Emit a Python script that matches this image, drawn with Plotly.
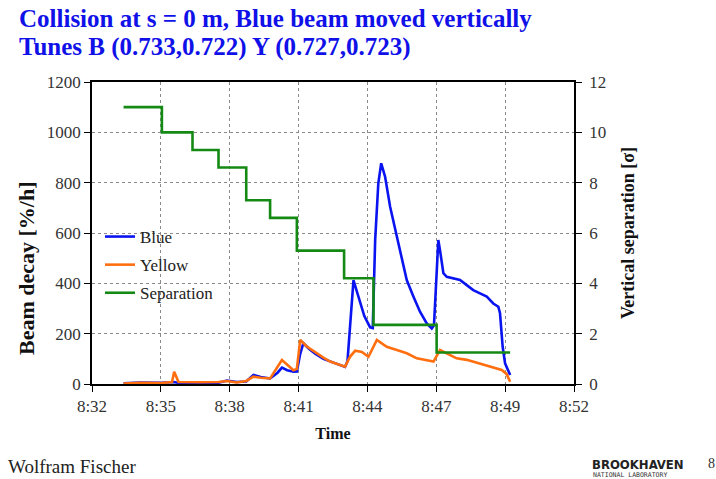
import plotly.graph_objects as go

# ---------------- data ----------------
tick_labels = ["8:32", "8:35", "8:38", "8:41", "8:44", "8:47", "8:49", "8:52"]

blue_t = [33.31, 34.0, 34.9, 35.4, 35.6, 36.5, 37.25, 37.6, 38.0, 38.4, 38.7, 39.0, 39.39, 39.7,
          39.88, 40.1, 40.36, 40.5, 40.64, 40.77, 41.0, 41.26, 41.6, 41.88, 42.2, 42.5, 42.6, 42.71,
          42.85, 42.92, 43.13, 43.3, 43.54, 43.65, 43.75, 43.88, 44.0, 44.16, 44.37, 44.58, 44.78,
          45.06, 45.34, 45.61, 45.89, 46.1, 46.19, 46.28, 46.37, 46.44, 46.58, 46.72, 46.99, 47.27,
          47.55, 47.82, 48.1, 48.38, 48.65, 48.86, 48.93, 49.04, 49.14, 49.35]
blue_v = [3, 6, 5, 8, 4, 6, 5, 14, 8, 10, 36, 28, 22, 45,
          65, 55, 49, 50, 120, 162, 140, 120, 100, 90, 78, 68, 90, 250,
          413, 390, 320, 270, 225, 222, 572, 797, 877, 824, 704, 612, 532,
          413, 347, 287, 241, 221, 233, 380, 572, 532, 440, 426, 420, 413,
          393, 373, 360, 347, 320, 307, 281, 148, 82, 36]

yellow_t = [33.31, 34.0, 34.9, 35.32, 35.41, 35.59, 36.5, 37.25, 37.6, 38.0, 38.4, 38.7, 39.0,
            39.39, 39.88, 40.1, 40.36, 40.5, 40.64, 40.9, 41.26, 41.6, 41.88, 42.2, 42.5, 42.71,
            42.92, 43.2, 43.47, 43.82, 44.23, 44.65, 45.06, 45.48, 45.89, 46.17, 46.44, 46.72,
            47.13, 47.55, 48.1, 48.65, 49.0, 49.2, 49.35]
yellow_v = [2, 5, 4, 8, 49, 8, 7, 8, 12, 6, 12, 29, 25,
            22, 95, 75, 55, 60, 175, 150, 125, 105, 89, 80, 69, 109,
            132, 127, 108, 175, 148, 135, 122, 102, 96, 89, 135, 122,
            102, 96, 80, 66, 56, 40, 9]

sep_t = [33.31, 34.90, 36.17, 37.25, 38.40, 39.39, 40.50, 42.46, 43.68, 46.30, 49.35]
sep_v = [11.0, 10.0, 9.3, 8.6, 7.3, 6.6, 5.3, 4.2, 2.35, 1.25, 1.25]

# ---------------- figure ----------------
SERIF = "Liberation Serif"
L, R, T, B = 92, 574, 82, 384
W, H = 716, 479


def px(x):
    return (x - L) / (R - L)


def py(y):
    return (B - y) / (B - T)


fig = go.Figure()
fig.add_trace(go.Scatter(x=blue_t, y=blue_v, mode="lines", name="Blue",
                         line=dict(color="#0a14f0", width=2.6), legendgroup="a"))
fig.add_trace(go.Scatter(x=yellow_t, y=yellow_v, mode="lines", name="Yellow",
                         line=dict(color="#ff6f10", width=2.6), legendgroup="b"))
fig.add_trace(go.Scatter(x=sep_t, y=sep_v, mode="lines", name="Separation", yaxis="y2",
                         line=dict(color="#148a14", width=2.6, shape="hv"), legendgroup="c"))

tickvals = [32 + 20 / 7 * i for i in range(8)]

fig.update_layout(
    width=W, height=H,
    margin=dict(l=L, r=W - R, t=T, b=H - B, pad=0),
    paper_bgcolor="white", plot_bgcolor="white",
    font=dict(family=SERIF, color="#333333", size=15),
    showlegend=True,
    legend=dict(x=px(100), y=py(219), xanchor="left", yanchor="top",
                bgcolor="rgba(0,0,0,0)", font=dict(family=SERIF, size=17, color="#222"),
                tracegroupgap=3, itemwidth=30),
    xaxis=dict(range=[32, 52], tickvals=tickvals, ticktext=tick_labels,
               showgrid=True, gridcolor="#8a8a8a", griddash="dot", gridwidth=1,
               showline=True, linecolor="black", linewidth=1.5, mirror=True,
               ticks="outside", ticklen=6, tickcolor="black",
               tickfont=dict(family=SERIF, size=17, color="#333"),
               title=dict(text="<b>Time</b>", font=dict(family=SERIF, size=16, color="#111"),
                          standoff=13),
               zeroline=False),
    yaxis=dict(range=[0, 1200], dtick=200,
               showgrid=True, gridcolor="#8a8a8a", griddash="dot", gridwidth=1,
               showline=True, linecolor="black", linewidth=1.5, mirror=True,
               ticks="outside", ticklen=6, tickcolor="black",
               tickfont=dict(family=SERIF, size=17, color="#333"),
               zeroline=False),
    yaxis2=dict(range=[0, 12], dtick=2, overlaying="y", side="right",
                showgrid=False, showline=True, linecolor="black", linewidth=1.5,
                ticks="outside", ticklen=6, tickcolor="black", ticklabelstandoff=4,
                tickfont=dict(family=SERIF, size=17, color="#333"),
                title=dict(text="<b>Vertical separation [σ]</b>",
                           font=dict(family=SERIF, size=18, color="#111"), standoff=16),
                zeroline=False),
)

annotations = [
    dict(text="<b>Collision at s = 0 m, Blue beam moved vertically</b>", x=px(17), y=py(18),
         xanchor="left", font=dict(family=SERIF, size=25, color="#1010e8")),
    dict(text="<b>Tunes B (0.733,0.722) Y (0.727,0.723)</b>", x=px(17), y=py(47),
         xanchor="left", font=dict(family=SERIF, size=25, color="#1010e8")),
    dict(text="<b>Beam decay [%/h]</b>", x=px(26), y=py(268), xanchor="center", textangle=-90,
         font=dict(family=SERIF, size=22, color="#111")),
    dict(text="Wolfram Fischer", x=px(6), y=py(466),
         xanchor="left", font=dict(family=SERIF, size=19, color="#222")),
    dict(text="<b>BROOKHAVEN</b>", x=px(590), y=py(464),
         xanchor="left", font=dict(family="DejaVu Sans Condensed", size=13, color="#222")),
    dict(text="NATIONAL LABORATORY", x=px(591), y=py(475),
         xanchor="left", font=dict(family="DejaVu Sans Mono", size=6.5, color="#333")),
    dict(text="8", x=px(706), y=py(463),
         xanchor="left", font=dict(family=SERIF, size=14, color="#333")),
]
for a in annotations:
    a.update(xref="paper", yref="paper", yanchor="middle", showarrow=False)
fig.update_layout(annotations=annotations)

fig.write_html("out.html")
